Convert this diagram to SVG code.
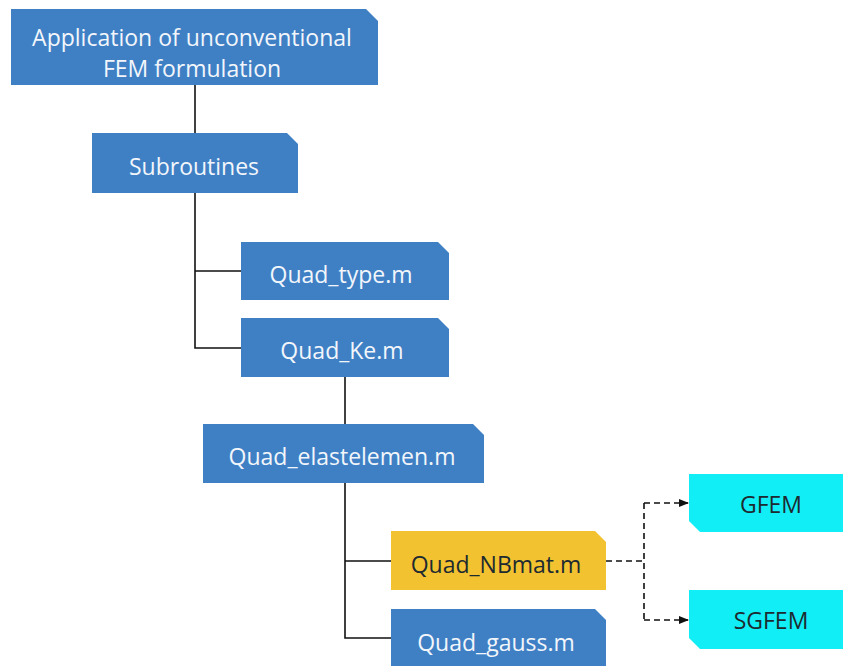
<svg xmlns="http://www.w3.org/2000/svg" width="843" height="666" viewBox="0 0 843 666">
<style>
.b{fill:#3f80c5}
.y{fill:#f2c230}
.c{fill:#12eef5}
.t{font-family:"Open Sans","Noto Sans",sans-serif;font-size:23px;text-anchor:middle;dominant-baseline:central}
.w{fill:#f2f6fb}
.d{fill:#1d2a30}
.ln{stroke:#111;stroke-width:1.6;fill:none}
.ds{stroke:#111;stroke-width:1.6;fill:none;stroke-dasharray:6 4}
</style>
<defs>
<marker id="ah" markerWidth="10" markerHeight="8" refX="9" refY="4" orient="auto" markerUnits="userSpaceOnUse">
<path d="M0,0 L10,4 L0,8 Z" fill="#111"/>
</marker>
</defs>
<rect width="843" height="666" fill="#fff"/>
<g id="connectors">
<path class="ln" d="M195,85 V133"/>
<path class="ln" d="M195,193 V348 H241 M195,271 H241"/>
<path class="ln" d="M345,377 V424"/>
<path class="ln" d="M345,483 V638 H391 M345,561 H391"/>
<path class="ds" d="M606,561 H644 M644,503 V620"/>
<path class="ds" d="M644,503 H688" marker-end="url(#ah)"/>
<path class="ds" d="M644,620 H688" marker-end="url(#ah)"/>
</g>
<g id="n-app">
<path class="b" d="M11,9 H366 L378,21 V85 H11 Z"/>
<text class="t w" x="192" y="37">Application of unconventional</text>
<text class="t w" x="192" y="68">FEM formulation</text>
</g>
<g id="n-sub">
<path class="b" d="M92,133 H287 L298,144 V193 H92 Z"/>
<text class="t w" x="194" y="166">Subroutines</text>
</g>
<g id="n-type">
<path class="b" d="M241,242 H438 L449,253 V300 H241 Z"/>
<text class="t w" x="341" y="274">Quad_type.m</text>
</g>
<g id="n-ke">
<path class="b" d="M241,318 H438 L449,329 V377 H241 Z"/>
<text class="t w" x="342" y="350">Quad_Ke.m</text>
</g>
<g id="n-elast">
<path class="b" d="M203,424 H473 L484,435 V483 H203 Z"/>
<text class="t w" x="342" y="456">Quad_elastelemen.m</text>
</g>
<g id="n-nbmat">
<path class="y" d="M391,531 H595 L606,542 V590 H391 Z"/>
<text class="t d" x="496" y="564">Quad_NBmat.m</text>
</g>
<g id="n-gauss">
<path class="b" d="M391,609 H595 L606,620 V670 H391 Z"/>
<text class="t w" x="496" y="642">Quad_gauss.m</text>
</g>
<g id="n-gfem">
<path class="c" d="M689,474 H850 V532 H700 L689,521 Z"/>
<text class="t d" x="771" y="504">GFEM</text>
</g>
<g id="n-sgfem">
<path class="c" d="M689,590 H850 V649 H700 L689,638 Z"/>
<text class="t d" x="771" y="620">SGFEM</text>
</g>
</svg>
